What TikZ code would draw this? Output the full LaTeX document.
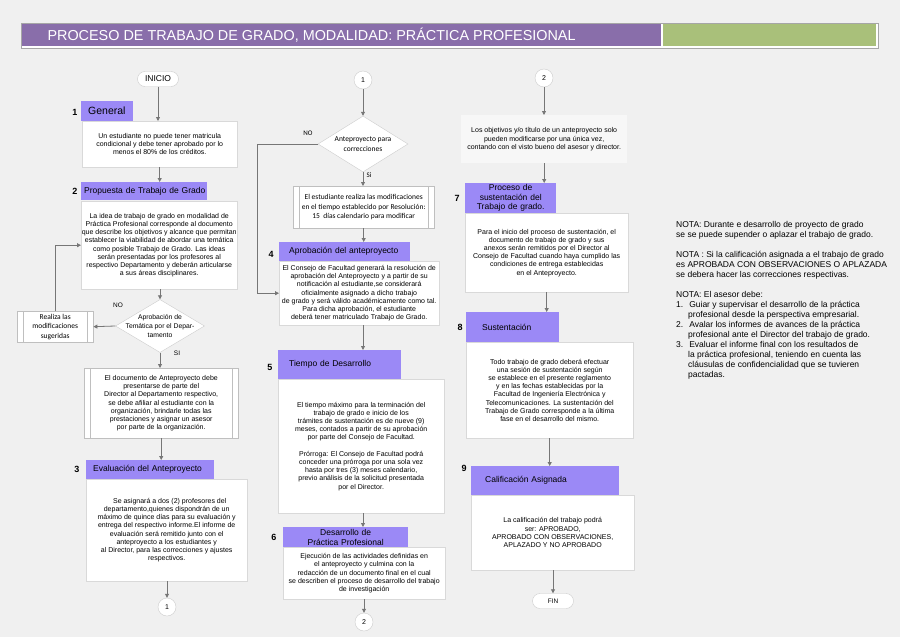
\documentclass[tikz,border=0pt]{standalone}
\usepackage{fontspec}
\setmainfont{Liberation Sans}
\newfontfamily\carlito{Carlito}
\usetikzlibrary{arrows.meta,shapes.geometric}

\definecolor{fondo}{RGB}{240,240,240}
\definecolor{morado}{RGB}{137,110,170}
\definecolor{verde}{RGB}{169,192,122}
\definecolor{lila}{RGB}{155,137,246}
\definecolor{grisflecha}{RGB}{118,118,118}

\newcommand{\cuerpo}{\fontsize{7}{8.2}\selectfont}
\newcommand{\cuerpocal}{\carlito\fontsize{7.5}{9.5}\selectfont}

\tikzset{
  caja/.style={draw=black!15, fill=white, anchor=north west, align=center,
    inner sep=0pt, font=\cuerpo},
  encabezado/.style={fill=lila, anchor=north west, inner xsep=0pt, inner ysep=0pt,
    align=left, font=\fontsize{8.5}{10}\selectfont},
  numero/.style={font=\fontsize{9}{10}\bfseries},
  decision/.style={diamond, draw=black!20, fill=white, inner sep=0pt},
  conector/.style={circle, draw=black!20, fill=white, minimum size=18pt,
    inner sep=0pt, font=\fontsize{7}{8}\selectfont},
  terminal/.style={rectangle, rounded corners=7.5pt, draw=black!20, fill=white,
    minimum width=41pt, minimum height=15pt, inner sep=0pt},
  rotulo/.style={font=\fontsize{6.5}{7.5}\selectfont},
  flecha/.style={draw=grisflecha, line width=0.8pt, -{Triangle[width=4pt,length=4pt]}}
}

\begin{document}
\begin{tikzpicture}[x=1pt,y=-1pt]
\newcommand{\ins}{6pt}
\useasboundingbox (0,0) rectangle (900,637);
\fill[fondo] (0,0) rectangle (900,637);

% barra de titulo
\filldraw[fill=white, draw=black!35] (21,23) rectangle (878,48);
\fill[morado] (22,24) rectangle (661,46);
\fill[verde] (663,24) rectangle (876,46);
\node[anchor=west, text=white, font=\fontsize{14.4}{16}\selectfont] (titulo) at (44,35.5)
  {PROCESO DE TRABAJO DE GRADO, MODALIDAD: PRÁCTICA PROFESIONAL};

% columna izquierda
\node[terminal, font=\fontsize{8.5}{10}\selectfont] (inicio) at (158,79) {INICIO};
\node[numero] (n1) at (75,112) {1};
\node[encabezado, text width=52pt, minimum height=20pt, font=\fontsize{10.5}{12}\selectfont]
  (encA) at (81,101) {\hspace*{7pt}General};
\node[caja, minimum width=155pt, minimum height=46pt] (cA) at (82,121)
  {Un estudiante no puede tener matricula\\condicional y debe tener aprobado por lo\\menos el 80\% de los créditos.};

\node[numero] (n2) at (75,191) {2};
\node[encabezado, text width=126pt, minimum height=18pt] (encB) at (81,182)
  {\hspace*{3pt}Propuesta de Trabajo de Grado};
\node[caja, minimum width=156pt, minimum height=88pt] (cB) at (81,201)
  {La idea de trabajo de grado en modalidad de\\Práctica Profesional corresponde al documento\\
   que describe los objetivos y alcance que permitan\\establecer la viabilidad de abordar una temática\\
   como posible Trabajo de Grado. Las ideas\\serán presentadas por los profesores al\\
   respectivo Departamento y deberán articularse\\a sus áreas disciplinares.};

\node[decision, minimum width=89pt, minimum height=53pt,
  label={[align=center, font=\fontsize{6.8}{9}\selectfont]center:Aprobación de\\Temática por el Depar-\\tamento}]
  (decB) at (160,326) {};
\node[caja, minimum width=76pt, minimum height=31pt, font=\cuerpocal, draw=black!25] (modB) at (17,311)
  {Realiza las\\modificaciones\\sugeridas};
\draw[black!25] ([xshift=\ins]modB.north west) -- ([xshift=\ins]modB.south west);
\draw[black!25] ([xshift=-\ins]modB.north east) -- ([xshift=-\ins]modB.south east);
\node[rotulo] (noB) at (118,305) {NO};
\node[rotulo] (siB) at (177,353) {SI};

\node[caja, minimum width=154pt, minimum height=70pt, draw=black!25] (procB) at (84,368)
  {El documento de Anteproyecto debe\\presentarse de parte del\\Director al Departamento respectivo,\\
   se debe afiliar al estudiante con la\\organización, brindarle todas las\\
   prestaciones y asignar un asesor\\por parte de la organización.};
\draw[black!25] ([xshift=\ins]procB.north west) -- ([xshift=\ins]procB.south west);
\draw[black!25] ([xshift=-\ins]procB.north east) -- ([xshift=-\ins]procB.south east);

\node[numero] (n3) at (77,469) {3};
\node[encabezado, text width=128pt, minimum height=19pt] (encC) at (86,460)
  {\hspace*{7pt}Evaluación del Anteproyecto};
\node[caja, minimum width=161pt, minimum height=102pt] (cC) at (86,479)
  {\hspace*{6pt}Se asignará a dos (2) profesores del\\departamento,quienes dispondrán de un\\
   máximo de quince días para su evaluación y\\entrega del respectivo informe.El informe de\\
   evaluación será remitido junto con el\\anteproyecto a los estudiantes y\\
   al Director, para las correcciones y ajustes\\respectivos.};
\node[conector] (conA) at (167,607) {1};

% columna central
\node[conector] (conB) at (363,80) {1};
\node[decision, minimum width=90pt, minimum height=56pt,
  label={[align=center, font=\cuerpocal]center:Anteproyecto para\\correcciones}]
  (decC) at (363,144) {};
\node[rotulo, font=\carlito\fontsize{7}{8}\selectfont] (noC) at (308,133) {NO};
\node[rotulo, font=\carlito\fontsize{7}{8}\selectfont] (siC) at (369,175) {Si};
\node[caja, minimum width=141pt, minimum height=42pt, font=\cuerpocal, draw=black!25] (procC) at (293,186)
  {El estudiante realiza las modificaciones\\en el tiempo establecido por Resolución:\\15~ días calendario para modificar};
\draw[black!25] ([xshift=\ins]procC.north west) -- ([xshift=\ins]procC.south west);
\draw[black!25] ([xshift=-\ins]procC.north east) -- ([xshift=-\ins]procC.south east);

\node[numero] (n4) at (271,254) {4};
\node[encabezado, text width=131pt, minimum height=19pt] (encD) at (279,242)
  {\hspace*{10pt}Aprobación del anteproyecto};
\node[caja, minimum width=160pt, minimum height=64pt] (cD) at (279,261)
  {El Consejo de Facultad generará la resolución de\\aprobación del Anteproyecto y a partir de su\\
   notificación al estudiante,se considerará\\oficialmente asignado a dicho trabajo\\
   de grado y será válido académicamente como tal.\\Para dicha aprobación, el estudiante\\
   deberá tener matriculado Trabajo de Grado.};

\node[numero] (n5) at (270,367) {5};
\node[encabezado, text width=123pt, minimum height=29pt] (encE) at (278,350)
  {\hspace*{11pt}Tiempo de Desarrollo};
\node[caja, minimum width=166pt, minimum height=134pt] (cE) at (278,379)
  {El tiempo máximo para la terminación del\\trabajo de grado e inicio de los\\
   trámites de sustentación es de nueve (9)\\meses, contados a partir de su aprobación\\
   por parte del Consejo de Facultad.\\[8.2pt]
   Prórroga: El Consejo de Facultad podrá\\conceder una prórroga por una sola vez\\
   hasta por tres (3) meses calendario,\\previo análisis de la solicitud presentada\\por el Director.};

\node[numero] (n6) at (274,537) {6};
\node[encabezado, text width=125pt, minimum height=20pt, align=center] (encF) at (283,527)
  {Desarrollo de\\Práctica Profesional};
\node[caja, minimum width=162pt, minimum height=52pt] (cF) at (283,547)
  {Ejecución de las actividades definidas en\\el anteproyecto y culmina con la\\
   redacción de un documento final en el cual\\se describen el proceso de desarrollo del trabajo\\de investigación};
\node[conector] (conC) at (364,622) {2};

% columna derecha
\node[conector] (conD) at (544,78) {2};
\node[caja, minimum width=166pt, minimum height=48pt, fill=black!3, draw=none] (cG) at (461,115)
  {Los objetivos y/o título de un anteproyecto solo\\pueden modificarse por una única vez,\\
   contando con el visto bueno del asesor y director.};

\node[numero] (n7) at (457,198) {7};
\node[encabezado, text width=91pt, minimum height=30pt, align=center,
  font=\fontsize{8.5}{9.6}\selectfont] (encG) at (465,183)
  {Proceso de\\sustentación del\\Trabajo de grado.};
\node[caja, minimum width=163pt, minimum height=79pt] (cH) at (465,213)
  {Para el inicio del proceso de sustentación, el\\documento de trabajo de grado y sus\\
   anexos serán remitidos por el Director al\\Consejo de Facultad cuando haya cumplido las\\
   condiciones de entrega establecidas\\en el Anteproyecto.};

\node[numero] (n8) at (460,327) {8};
\node[encabezado, text width=93pt, minimum height=30pt] (encH) at (466,312)
  {\hspace*{16pt}Sustentación};
\node[caja, minimum width=167pt, minimum height=96pt] (cI) at (466,342)
  {Todo trabajo de grado deberá efectuar\\una sesión de sustentación según\\
   se establece en el presente reglamento\\y en las fechas establecidas por la\\
   Facultad de Ingeniería Electrónica y\\Telecomunicaciones. La sustentación del\\
   Trabajo de Grado corresponde a la última\\fase en el desarrollo del mismo.};

\node[numero] (n9) at (464,468) {9};
\node[encabezado, text width=148pt, minimum height=29pt] (encI) at (471,466)
  {\hspace*{14pt}Calificación Asignada};
\node[caja, minimum width=163pt, minimum height=75pt] (cJ) at (471,495)
  {La calificación del trabajo podrá\\ser: APROBADO,\\APROBADO CON OBSERVACIONES,\\APLAZADO Y NO APROBADO};
\node[terminal, font=\fontsize{6.5}{8}\selectfont] (fin) at (553,601) {FIN};

% notas
\node[anchor=north west, align=left, inner sep=0pt, font=\fontsize{8.5}{10}\selectfont] (notas) at (676,221)
  {NOTA: Durante e desarrollo de proyecto de grado\\se se puede supender o aplazar el trabajo de grado.\\[10pt]
   NOTA : Si la calificación asignada a el trabajo de grado\\es APROBADA CON OBSERVACIONES O APLAZADA\\
   se debera hacer las correcciones respectivas.\\[10pt]
   NOTA: El asesor debe:\\
   1.\hspace*{6pt}Guiar y supervisar el desarrollo de la práctica\\
   \hspace*{12pt}profesional desde la perspectiva empresarial.\\
   2.\hspace*{6pt}Avalar los informes de avances de la práctica\\
   \hspace*{12pt}profesional ante el Director del trabajo de grado.\\
   3.\hspace*{6pt}Evaluar el informe final con los resultados de\\
   \hspace*{12pt}la práctica profesional, teniendo en cuenta las\\
   \hspace*{12pt}cláusulas de confidencialidad que se tuvieren\\
   \hspace*{12pt}pactadas.};

% conectores
\draw[flecha] (inicio.south) -- (inicio.south |- cA.north);
\draw[flecha] (cA.south) -- (cA.south |- encB.north);
\draw[flecha] (decB.north |- cB.south) -- (decB.north);
\draw[flecha] (decB.west) -- (modB.east);
\draw[flecha] (modB.north) |- (cB.west);
\draw[flecha] (decB.south) -- (decB.south |- procB.north);
\draw[flecha] (procB.south) -- (procB.south |- encC.north);
\draw[flecha] (conA.north |- cC.south) -- (conA.north);

\draw[flecha] (conB.south) -- (decC.north);
\draw[flecha] (decC.west) -- ++(-60,0) |- (cD.west);
\draw[flecha] (decC.south) -- (decC.south |- procC.north);
\draw[flecha] (procC.south) -- (procC.south |- encD.north);
\draw[flecha] (cD.south -| decC) -- (encE.north -| decC);
\draw[flecha] (cE.south -| decC) -- (encF.north -| decC);
\draw[flecha] (conC.north |- cF.south) -- (conC.north);

\draw[flecha] (conD.south) -- (conD.south |- cG.north);
\draw[flecha] (cG.south) -- (cG.south |- encG.north);
\draw[flecha] (cH.south) -- (cH.south |- encH.north);
\draw[flecha] (cI.south) -- (cI.south |- encI.north);
\draw[flecha] (fin.north |- cJ.south) -- (fin.north);
\end{tikzpicture}
\end{document}
